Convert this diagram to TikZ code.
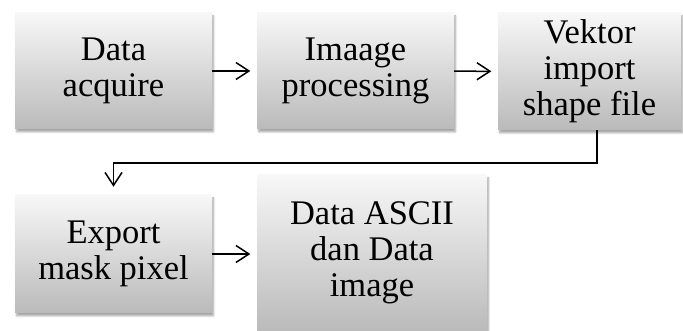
\documentclass[tikz,border=0pt]{standalone}
\usepackage{fontspec}
\setmainfont{Liberation Serif}
\usetikzlibrary{arrows.meta,shadows.blur}

\begin{document}
\begin{tikzpicture}[x=1pt, y=1pt,
  stage/.style={top color=black!3, bottom color=black!27, draw=none,
                minimum width=197pt, minimum height=116pt, align=center,
                inner sep=2pt, font=\fontsize{34.5}{36}\selectfont,
                blur shadow={shadow xshift=1.5pt, shadow yshift=-3pt,
                             shadow opacity=35, shadow blur steps=6}},
  link/.style={-{Straight Barb[length=13pt, width=17pt]}, line width=1.5pt,
               black, shorten >=6.5pt}
]
\useasboundingbox (0,0) rectangle (683,331);
\clip (0,0) rectangle (683,331);
\node[stage] (acq) at (113.5,260) {Data\\acquire};
\node[stage] (proc) at (355.5,260) {Imaage\\processing};
\node[stage, minimum width=183pt, minimum height=117pt] (vek) at (589.5,259.5)
  {Vektor\\import\\shape file};
\node[stage, minimum height=118pt] (exp) at (113.5,77) {Export\\mask pixel};
\node[stage, minimum width=230pt, minimum height=156pt] (ascii) at (372,78)
  {Data ASCII\\dan Data\\image};
\draw[link] (acq) -- (proc);
\draw[link] (proc) -- (vek);
\draw[link, shorten >=8pt] ([xshift=7.5pt]vek.south) -- ++(0,-33) -| (exp.north);
\draw[link] (exp.east) -- (exp.east -| ascii.west);
\end{tikzpicture}
\end{document}
